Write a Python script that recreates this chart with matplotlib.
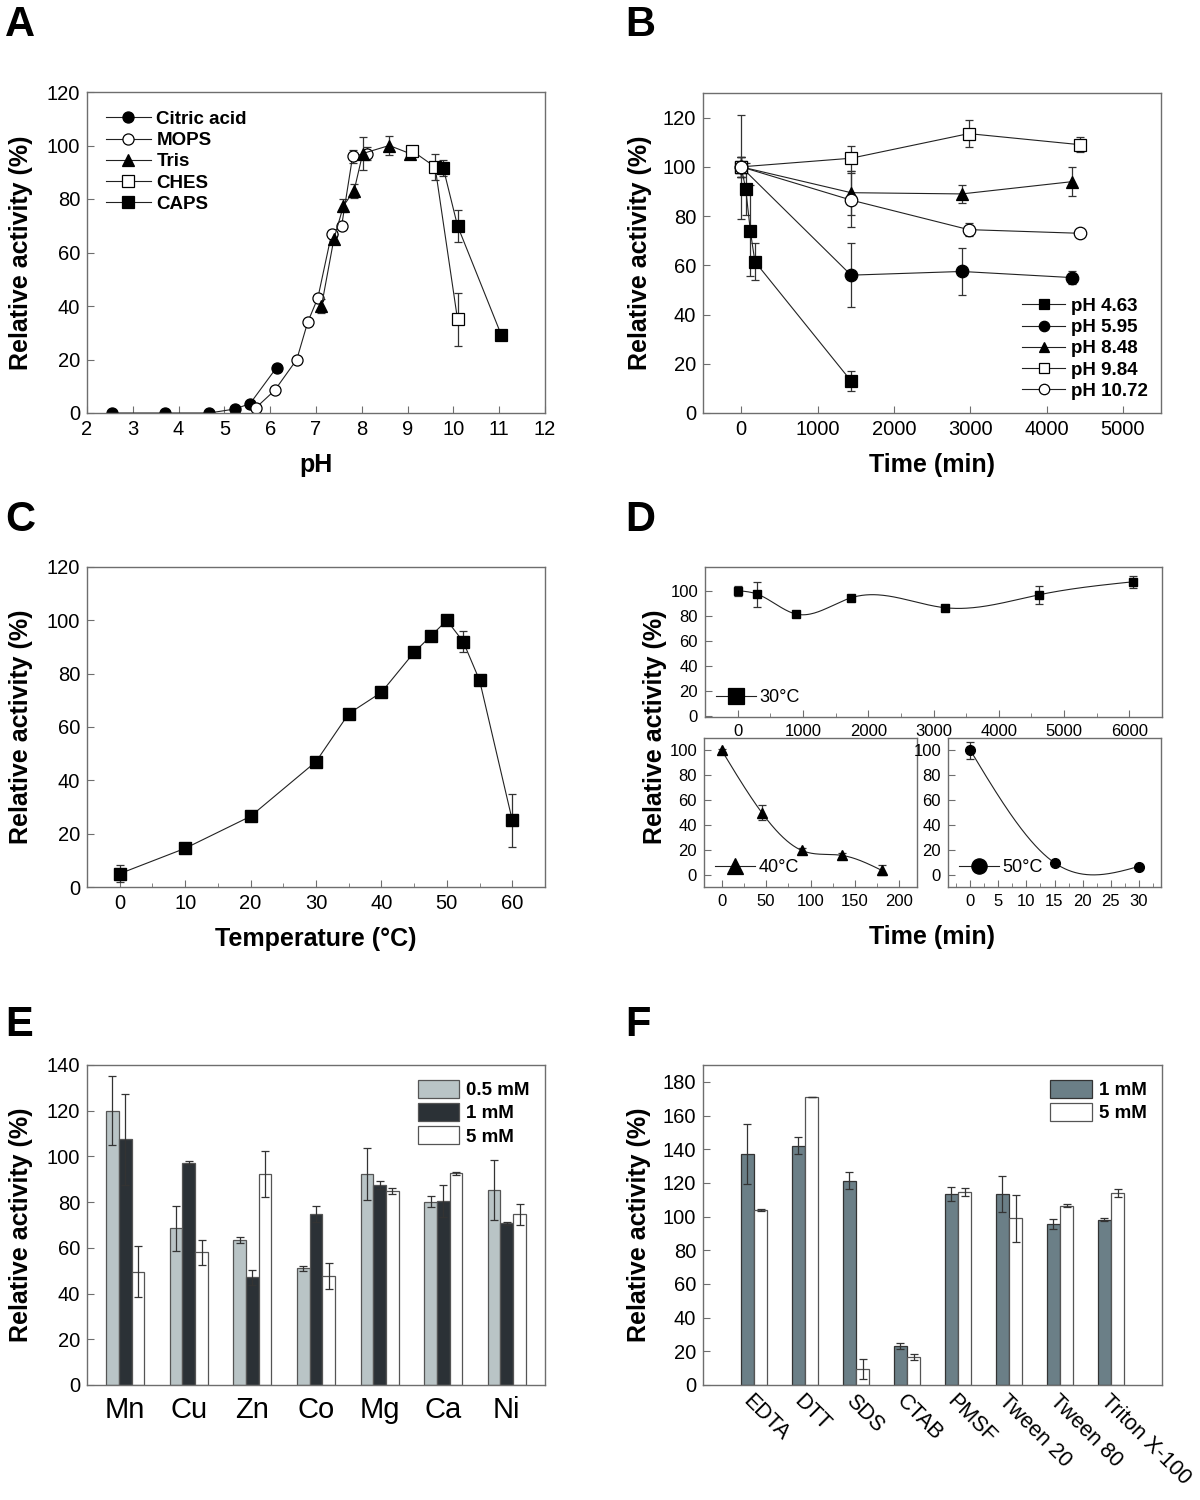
import numpy as np
import matplotlib
matplotlib.use("Agg")
import matplotlib.pyplot as plt
from matplotlib.lines import Line2D
from matplotlib.ticker import MultipleLocator

plt.rcParams['font.family'] = ['Liberation Sans', 'DejaVu Sans']

# ---------------- Data ----------------
# Panel A: pH profile
citric_ph = [2.54, 3.70, 4.67, 5.23, 5.56, 6.14]
citric_act = [0, 0, 0, 1.5, 3.5, 17]
citric_err = [0, 0, 0, 0.5, 0.5, 0.5]
mops_ph = [5.69, 6.10, 6.58, 6.82, 7.04, 7.34, 7.56, 7.80, 8.11]
mops_act = [2, 8.5, 20, 34, 43, 67, 70, 96, 97]
mops_err = [1, 1, 1, 1, 1, 1.5, 1.5, 2.5, 2.5]
tris_ph = [7.12, 7.39, 7.60, 7.83, 8.02, 8.60, 9.05]
tris_act = [40, 65, 77.5, 83, 97, 100, 97]
tris_err = [2.5, 2, 2.5, 2.5, 6, 3.5, 1.5]
ches_ph = [9.10, 9.60, 10.09]
ches_act = [98, 92, 35]
ches_err = [1, 5, 10]
caps_ph = [9.78, 10.09, 11.05]
caps_act = [91.5, 70, 29]
caps_err = [3, 6, 0.5]

# Panel B: pH stability
b_t463 = [0, 60, 120, 180, 1440]
b_v463 = [100, 91, 74, 61.5, 13]
b_e463 = [21, 10.5, 18.5, 7.5, 4]
b_t595 = [0, 1440, 2890, 4340]
b_v595 = [100, 56, 57.5, 55]
b_e595 = [4, 13, 9.5, 2.5]
b_t848 = [0, 1440, 2890, 4340]
b_v848 = [100, 89.5, 89, 94]
b_e848 = [4, 9, 3.5, 6]
b_t984 = [0, 1440, 2980, 4440]
b_v984 = [100, 103.5, 113.5, 109]
b_e984 = [4, 5, 5.5, 3]
b_t1072 = [0, 1440, 2980, 4440]
b_v1072 = [100, 86.5, 74.5, 73]
b_e1072 = [4, 11, 2.5, 1.5]

# Panel C: temperature profile
temp_c = [0, 10, 20, 30, 35, 40, 45, 47.5, 50, 52.5, 55, 60]
temp_act = [5, 14.5, 26.5, 47, 65, 73, 88, 94, 100, 92, 77.5, 25]
temp_err = [3.3, 0.5, 0.5, 0.5, 0.5, 0.5, 0.5, 0.5, 0.5, 4, 0.5, 10]

# Panel D: thermostability
d30_t = [0, 300, 900, 1740, 3180, 4620, 6060]
d30_v = [100, 97.3, 81.3, 94.4, 86.4, 96.8, 107.2]
d30_e = [4, 10, 1, 1, 1, 7, 5]
d40_t = [0, 45, 90, 135, 180]
d40_v = [100, 50, 19.5, 15.5, 3.5]
d40_e = [1, 6, 2, 2, 4]
d50_t = [0, 15, 30]
d50_v = [100, 9.5, 6.5]
d50_e = [7, 1, 1]

# Panel E: metal ions
metals = ['Mn', 'Cu', 'Zn', 'Co', 'Mg', 'Ca', 'Ni']
e_05 = [120, 68.5, 63.3, 51, 92.2, 80.2, 85.3]
e_05_err = [15, 10, 1.3, 1, 11.4, 2.3, 13.1]
e_1 = [107.5, 97.3, 47.1, 74.7, 87.5, 80.5, 70.7]
e_1_err = [20, 0.7, 3.4, 3.6, 1.6, 7, 0.5]
e_5 = [49.6, 58, 92.3, 47.7, 84.9, 92.6, 74.7]
e_5_err = [11, 5.4, 10.2, 5.8, 1.4, 0.6, 4.6]

# Panel F: chemicals
chems = ['EDTA', 'DTT', 'SDS', 'CTAB', 'PMSF', 'Tween 20', 'Tween 80', 'Triton X-100']
f_1 = [137.2, 142, 121.4, 23.2, 113.3, 113.5, 95.6, 98.2]
f_1_err = [18, 5, 5.3, 1.8, 4, 10.5, 2.8, 0.8]
f_5 = [103.8, 171.1, 9.7, 16.6, 114.5, 99, 106.5, 113.9]
f_5_err = [0.5, 0, 6, 1.8, 2.2, 14, 1, 2.2]

# ---------------- Helpers ----------------
W, H = 1200, 1500
fig = plt.figure(figsize=(12, 15), dpi=100)
SPINE = '#6e6e6e'
TICK_FS = 14.5
LAB_FS = 18


def add_ax(l, t, r, b):
    return fig.add_axes([l / W, 1 - b / H, (r - l) / W, (b - t) / H])


def style(ax, fs=TICK_FS):
    for s in ax.spines.values():
        s.set_color(SPINE)
        s.set_linewidth(1.0)
    ax.tick_params(which='both', direction='in', color=SPINE, labelsize=fs,
                   top=False, right=False, pad=5)
    ax.tick_params(which='major', length=5)
    ax.tick_params(which='minor', length=3)


def natural_spline(x, y, xs):
    x = np.asarray(x, float)
    y = np.asarray(y, float)
    n = len(x)
    h = np.diff(x)
    A = np.zeros((n, n))
    rhs = np.zeros(n)
    A[0, 0] = 1
    A[-1, -1] = 1
    for i in range(1, n - 1):
        A[i, i - 1] = h[i - 1]
        A[i, i] = 2 * (h[i - 1] + h[i])
        A[i, i + 1] = h[i]
        rhs[i] = 6 * ((y[i + 1] - y[i]) / h[i] - (y[i] - y[i - 1]) / h[i - 1])
    M = np.linalg.solve(A, rhs)
    out = np.empty_like(xs)
    for k, xv in enumerate(xs):
        i = min(max(np.searchsorted(x, xv) - 1, 0), n - 2)
        hi = h[i]
        a = x[i + 1] - xv
        b = xv - x[i]
        out[k] = (M[i] * a ** 3 + M[i + 1] * b ** 3) / (6 * hi) + \
            (y[i] / hi - M[i] * hi / 6) * a + (y[i + 1] / hi - M[i + 1] * hi / 6) * b
    return out


def panel_letter(x, y, s):
    fig.text(x / W, 1 - y / H, s, fontsize=30, fontweight='bold', ha='left', va='center')


def handle(m, fc, ms=8):
    return Line2D([], [], ls='-', marker=m, color='#222222', lw=0.8, mfc=fc,
                  mec='black', mew=0.9, ms=ms)


EB = dict(ecolor='#333333', elinewidth=0.9, capsize=3, capthick=0.9)

# ---------------- Panel A ----------------
axA = add_ax(87, 92, 545, 413)
style(axA)
series_a = [
    (citric_ph, citric_act, citric_err, 'o', 'black', 'Citric acid'),
    (mops_ph, mops_act, mops_err, 'o', 'white', 'MOPS'),
    (tris_ph, tris_act, tris_err, '^', 'black', 'Tris'),
    (ches_ph, ches_act, ches_err, 's', 'white', 'CHES'),
    (caps_ph, caps_act, caps_err, 's', 'black', 'CAPS'),
]
for xs_, ys_, es_, m, fc, lab in series_a:
    axA.errorbar(xs_, ys_, yerr=es_, fmt='-' + m, color='#222222', lw=0.8,
                 mfc=fc, mec='black', mew=0.9, ms=8, **EB)
axA.set_xlim(2, 12)
axA.set_ylim(0, 120)
axA.xaxis.set_major_locator(MultipleLocator(1))
axA.yaxis.set_major_locator(MultipleLocator(20))
axA.set_xlabel('pH', fontsize=LAB_FS, fontweight='bold', labelpad=10)
axA.set_ylabel('Relative activity (%)', fontsize=LAB_FS, fontweight='bold', labelpad=10)
axA.legend([handle(s[3], s[4]) for s in series_a], [s[5] for s in series_a],
           loc='upper left', frameon=False, handlelength=2.4,
           handletextpad=0.3, labelspacing=0.22, borderaxespad=0.6,
           prop={'weight': 'bold', 'size': 13.5})
panel_letter(5, 25, 'A')

# ---------------- Panel B ----------------
axB = add_ax(703, 93, 1161, 413)
style(axB)
series_b = [
    (b_t463, b_v463, b_e463, 's', 'black', 'pH 4.63'),
    (b_t595, b_v595, b_e595, 'o', 'black', 'pH 5.95'),
    (b_t848, b_v848, b_e848, '^', 'black', 'pH 8.48'),
    (b_t984, b_v984, b_e984, 's', 'white', 'pH 9.84'),
    (b_t1072, b_v1072, b_e1072, 'o', 'white', 'pH 10.72'),
]
for xs_, ys_, es_, m, fc, lab in series_b:
    axB.errorbar(xs_, ys_, yerr=es_, fmt='-' + m, color='#222222', lw=0.8,
                 mfc=fc, mec='black', mew=0.9, ms=9, **EB)
axB.set_xlim(-500, 5500)
axB.set_ylim(0, 130)
axB.xaxis.set_major_locator(MultipleLocator(1000))
axB.yaxis.set_major_locator(MultipleLocator(20))
axB.set_xlabel('Time (min)', fontsize=LAB_FS, fontweight='bold', labelpad=10)
axB.set_ylabel('Relative activity (%)', fontsize=LAB_FS, fontweight='bold', labelpad=8)
axB.legend([handle(s[3], s[4], 7.5) for s in series_b], [s[5] for s in series_b],
           loc='lower right', frameon=False, handlelength=2.3,
           handletextpad=0.3, labelspacing=0.22, borderaxespad=0.3,
           prop={'weight': 'bold', 'size': 13.5})
panel_letter(625, 25, 'B')

# ---------------- Panel C ----------------
axC = add_ax(87, 567, 545, 887)
style(axC)
axC.errorbar(temp_c, temp_act, yerr=temp_err, fmt='-s', color='#222222', lw=0.8,
             mfc='black', mec='black', ms=8, **EB)
axC.set_xlim(-5, 65)
axC.set_ylim(0, 120)
axC.xaxis.set_major_locator(MultipleLocator(10))
axC.xaxis.set_minor_locator(MultipleLocator(5))
axC.yaxis.set_major_locator(MultipleLocator(20))
axC.set_xlabel('Temperature (°C)', fontsize=LAB_FS, fontweight='bold', labelpad=10)
axC.set_ylabel('Relative activity (%)', fontsize=LAB_FS, fontweight='bold', labelpad=10)
panel_letter(5, 520, 'C')

# ---------------- Panel D ----------------
axD1 = add_ax(705, 567, 1162, 717)
axD2 = add_ax(704, 738, 917, 887)
axD3 = add_ax(948, 738, 1161, 887)
for ax in (axD1, axD2, axD3):
    style(ax, fs=12)


def d_panel(ax, t, v, e, m, lab, xlim, ylim, xmaj, xmin, ms):
    ts = np.linspace(t[0], t[-1], 300)
    ax.plot(ts, natural_spline(t, v, ts), color='#222222', lw=0.8)
    ax.errorbar(t, v, yerr=e, fmt=m, color='black', ms=ms, **EB)
    ax.set_xlim(*xlim)
    ax.set_ylim(*ylim)
    ax.xaxis.set_major_locator(MultipleLocator(xmaj))
    ax.xaxis.set_minor_locator(MultipleLocator(xmin))
    ax.yaxis.set_major_locator(MultipleLocator(20))
    ax.legend([handle(m, 'black', 11)], [lab], loc='lower left', frameon=False,
              fontsize=13, handlelength=2.2, handletextpad=0.2, borderaxespad=0.2)


d_panel(axD1, d30_t, d30_v, d30_e, 's', '30°C', (-500, 6500), (-1, 119), 1000, 500, 6)
d_panel(axD2, d40_t, d40_v, d40_e, '^', '40°C', (-20, 220), (-10, 110), 50, 25, 7)
d_panel(axD3, d50_t, d50_v, d50_e, 'o', '50°C', (-4, 34), (-10, 110), 5, 2.5, 7)
fig.text(655 / W, 1 - 727 / H, 'Relative activity (%)', rotation=90, fontsize=LAB_FS,
         fontweight='bold', ha='center', va='center')
fig.text(932 / W, 1 - 937 / H, 'Time (min)', fontsize=LAB_FS, fontweight='bold',
         ha='center', va='center')
panel_letter(625, 520, 'D')

# ---------------- Panel E ----------------
axE = add_ax(87, 1065, 545, 1385)
style(axE)
xe = np.arange(len(metals))
bw = 0.2
axE.bar(xe - bw, e_05, bw, yerr=e_05_err, color='#b9c4c6', edgecolor='#555555', lw=0.9,
        error_kw=EB, label='0.5 mM')
axE.bar(xe, e_1, bw, yerr=e_1_err, color='#2b3136', edgecolor='#555555', lw=0.9,
        error_kw=EB, label='1 mM')
axE.bar(xe + bw, e_5, bw, yerr=e_5_err, color='white', edgecolor='#555555', lw=0.9,
        error_kw=EB, label='5 mM')
axE.set_xlim(-0.6, 6.6)
axE.set_ylim(0, 140)
axE.yaxis.set_major_locator(MultipleLocator(20))
axE.set_xticks(xe)
axE.set_xticklabels(metals, fontsize=21)
axE.tick_params(axis='x', length=0, pad=8)
axE.set_ylabel('Relative activity (%)', fontsize=LAB_FS, fontweight='bold', labelpad=10)
axE.legend(loc='upper right', frameon=False, handlelength=2.2, handleheight=1.1,
           handletextpad=0.4, labelspacing=0.2, borderaxespad=0.4,
           prop={'weight': 'bold', 'size': 13.5})
panel_letter(5, 1025, 'E')

# ---------------- Panel F ----------------
axF = add_ax(703, 1065, 1162, 1385)
style(axF)
xf = np.arange(len(chems))
fw = 0.26
axF.bar(xf - fw / 2, f_1, fw, yerr=f_1_err, color='#6b7f87', edgecolor='#333333', lw=0.9,
        error_kw=EB, label='1 mM')
axF.bar(xf + fw / 2, f_5, fw, yerr=f_5_err, color='white', edgecolor='#555555', lw=0.9,
        error_kw=EB, label='5 mM')
axF.set_xlim(-1, 8)
axF.set_ylim(0, 190)
axF.yaxis.set_major_locator(MultipleLocator(20))
axF.set_xticks(xf)
axF.set_xticklabels(chems, fontsize=15.5, rotation=-45, ha='left', va='top',
                    rotation_mode='anchor')
axF.tick_params(axis='x', length=0, pad=4)
axF.set_ylabel('Relative activity (%)', fontsize=LAB_FS, fontweight='bold', labelpad=8)
axF.legend(loc='upper right', frameon=False, handlelength=2.2, handleheight=1.1,
           handletextpad=0.4, labelspacing=0.2, borderaxespad=0.4,
           prop={'weight': 'bold', 'size': 13.5})
panel_letter(625, 1025, 'F')

fig.savefig('out.png', dpi=100, facecolor='white')
